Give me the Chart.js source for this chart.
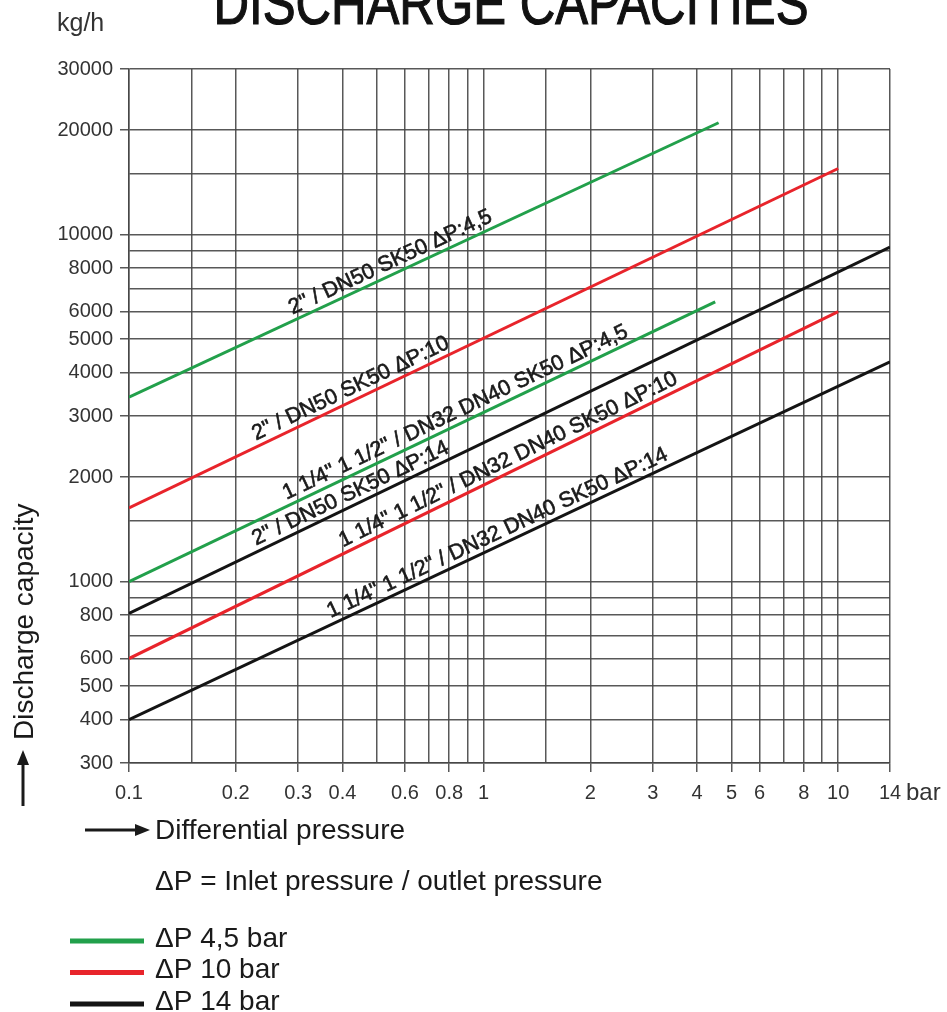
<!DOCTYPE html>
<html>
<head>
<meta charset="utf-8">
<title>Discharge capacities</title>
<script src="https://cdn.jsdelivr.net/npm/chart.js@4.4.1/dist/chart.umd.min.js"></script>
<style>
  html, body { margin: 0; padding: 0; background: #fff; }
  canvas { display: block; }
</style>
</head>
<body>
<canvas id="chart" width="947" height="1012"></canvas>
<script>
// grid lines (log-log paper) and which of them get a label
const xGrid = [0.1, 0.15, 0.2, 0.3, 0.4, 0.5, 0.6, 0.7, 0.8, 0.9, 1, 1.5, 2, 3, 4, 5, 6, 7, 8, 9, 10, 14];
const xLabels = [0.1, 0.2, 0.3, 0.4, 0.6, 0.8, 1, 2, 3, 4, 5, 6, 8, 10, 14];
const yGrid = [300, 400, 500, 600, 700, 800, 900, 1000, 1500, 2000, 3000, 4000, 5000, 6000, 7000, 8000, 9000, 10000, 15000, 20000, 30000];
const yLabels = [300, 400, 500, 600, 800, 1000, 2000, 3000, 4000, 5000, 6000, 8000, 10000, 20000, 30000];

// curves: differential pressure (bar) -> discharge capacity (kg/h)
const seriesNames = [
  '2" / DN50 SK50 ΔP:4,5',
  '2" / DN50 SK50 ΔP:10',
  '1 1/4" 1 1/2" / DN32 DN40 SK50 ΔP:4,5',
  '2" / DN50 SK50 ΔP:14',
  '1 1/4" 1 1/2" / DN32 DN40 SK50 ΔP:10',
  '1 1/4" 1 1/2" / DN32 DN40 SK50 ΔP:14'
];
const seriesPressure = [[0.1, 4.6], [0.1, 10], [0.1, 4.5], [0.1, 14], [0.1, 10], [0.1, 14]];
const seriesCapacity = [[3400, 21000], [1630, 15500], [1000, 6400], [810, 9200], [600, 6000], [400, 4300]];
const seriesGroup = [0, 1, 0, 2, 1, 2];

// legend (one entry per max ΔP)
const legendLabels = ['ΔP 4,5 bar', 'ΔP 10 bar', 'ΔP 14 bar'];
const legendColors = ['#22a04b', '#e8242b', '#141414'];

// where each caption starts along its curve (bar)
const captionStart = [0.294, 0.232, 0.283, 0.232, 0.408, 0.377];

const FONT = "'Liberation Sans', Arial, sans-serif";
const GRID = 'rgba(70,70,70,0.9)';

const datasets = seriesNames.map((name, i) => ({
  label: name,
  data: seriesPressure[i].map((p, j) => ({ x: p, y: seriesCapacity[i][j] })),
  borderColor: legendColors[seriesGroup[i]],
  borderWidth: 3,
  pointRadius: 0,
  tension: 0,
  fill: false
}));

function arrow(ctx, x1, y1, x2, y2) {
  const a = Math.atan2(y2 - y1, x2 - x1);
  const hl = 15, hw = 6;
  ctx.beginPath();
  ctx.moveTo(x1, y1);
  ctx.lineTo(x2 - hl * Math.cos(a), y2 - hl * Math.sin(a));
  ctx.lineWidth = 3;
  ctx.stroke();
  ctx.beginPath();
  ctx.moveTo(x2, y2);
  ctx.lineTo(x2 - hl * Math.cos(a) + hw * Math.sin(a), y2 - hl * Math.sin(a) - hw * Math.cos(a));
  ctx.lineTo(x2 - hl * Math.cos(a) - hw * Math.sin(a), y2 - hl * Math.sin(a) + hw * Math.cos(a));
  ctx.closePath();
  ctx.fill();
}

const decor = {
  id: 'decor',
  afterDraw(chart) {
    const ctx = chart.ctx;
    const xs = chart.scales.x, ys = chart.scales.y;
    ctx.save();

    // captions along the curves
    ctx.fillStyle = '#1a1a1a';
    ctx.strokeStyle = '#1a1a1a';
    ctx.lineWidth = 0.6;
    ctx.font = '21.5px ' + FONT;
    ctx.textAlign = 'left';
    ctx.textBaseline = 'alphabetic';
    seriesNames.forEach((name, i) => {
      const p = seriesPressure[i], c = seriesCapacity[i];
      const x0 = xs.getPixelForValue(p[0]), y0 = ys.getPixelForValue(c[0]);
      const x1 = xs.getPixelForValue(p[1]), y1 = ys.getPixelForValue(c[1]);
      const ang = Math.atan2(y1 - y0, x1 - x0);
      const px = xs.getPixelForValue(captionStart[i]);
      const py = y0 + (px - x0) / (x1 - x0) * (y1 - y0);
      ctx.save();
      ctx.translate(px, py);
      ctx.rotate(ang);
      ctx.fillText(name, 0, -6);
      ctx.strokeText(name, 0, -6);
      ctx.restore();
    });

    // title + units
    ctx.fillStyle = '#111';
    ctx.textAlign = 'center';
    ctx.font = "62px 'Liberation Sans Narrow', " + FONT;
    ctx.fillText('DISCHARGE CAPACITIES', 511, 24, 595);
    ctx.strokeStyle = '#111';
    ctx.lineWidth = 1.2;
    ctx.strokeText('DISCHARGE CAPACITIES', 511, 24, 595);
    ctx.textAlign = 'left';
    ctx.fillStyle = '#333';
    ctx.font = '25px ' + FONT;
    ctx.fillText('kg/h', 57, 31);

    // unit after last x tick
    ctx.font = '24px ' + FONT;
    ctx.fillText('bar', 906, 800);

    // vertical axis title with arrow
    ctx.fillStyle = '#1a1a1a';
    ctx.strokeStyle = '#1a1a1a';
    ctx.font = '28px ' + FONT;
    ctx.save();
    ctx.translate(33, 740);
    ctx.rotate(-Math.PI / 2);
    ctx.fillText('Discharge capacity', 0, 0);
    ctx.restore();
    arrow(ctx, 23, 806, 23, 750);

    // horizontal axis title with arrow
    arrow(ctx, 85, 830, 150, 830);
    ctx.textBaseline = 'middle';
    ctx.fillText('Differential pressure', 155, 831);
    ctx.fillText('ΔP = Inlet pressure / outlet pressure', 155, 882);

    // legend
    legendLabels.forEach((lab, i) => {
      const y = 941 + i * 31.5;
      ctx.fillStyle = legendColors[i];
      ctx.fillRect(70, y - 2.5, 74, 5);
      ctx.fillStyle = '#1a1a1a';
      ctx.fillText(lab, 155, y - 2);
    });
    ctx.restore();
  }
};

new Chart(document.getElementById('chart'), {
  type: 'line',
  data: { datasets: datasets },
  options: {
    responsive: false,
    animation: false,
    layout: { padding: { left: 0, right: 57, top: 69, bottom: 209 } },
    plugins: { legend: { display: false }, tooltip: { enabled: false } },
    scales: {
      x: {
        type: 'logarithmic',
        min: 0.1,
        max: 14,
        afterBuildTicks: s => { s.ticks = xGrid.map(v => ({ value: v })); },
        afterFit: s => { s.height = 40; },
        ticks: {
          autoSkip: false,
          maxRotation: 0,
          padding: 9,
          color: '#333',
          font: { family: FONT, size: 20 },
          callback: v => xLabels.includes(v) ? String(v) : ''
        },
        grid: {
          color: GRID,
          lineWidth: 1.5,
          tickLength: 9,
          tickColor: c => (c.tick && xLabels.includes(c.tick.value)) ? GRID : 'rgba(0,0,0,0)'
        },
        border: { color: GRID, width: 1.5 }
      },
      y: {
        type: 'logarithmic',
        min: 300,
        max: 30000,
        afterBuildTicks: s => { s.ticks = yGrid.map(v => ({ value: v })); },
        afterFit: s => { s.width = 129; },
        ticks: {
          autoSkip: false,
          padding: 7,
          color: '#333',
          font: { family: FONT, size: 20 },
          callback: v => yLabels.includes(v) ? String(v) : ''
        },
        grid: {
          color: GRID,
          lineWidth: 1.5,
          tickLength: 9,
          tickColor: c => (c.tick && yLabels.includes(c.tick.value)) ? GRID : 'rgba(0,0,0,0)'
        },
        border: { color: GRID, width: 1.5 }
      }
    }
  },
  plugins: [decor]
});
</script>
</body>
</html>
